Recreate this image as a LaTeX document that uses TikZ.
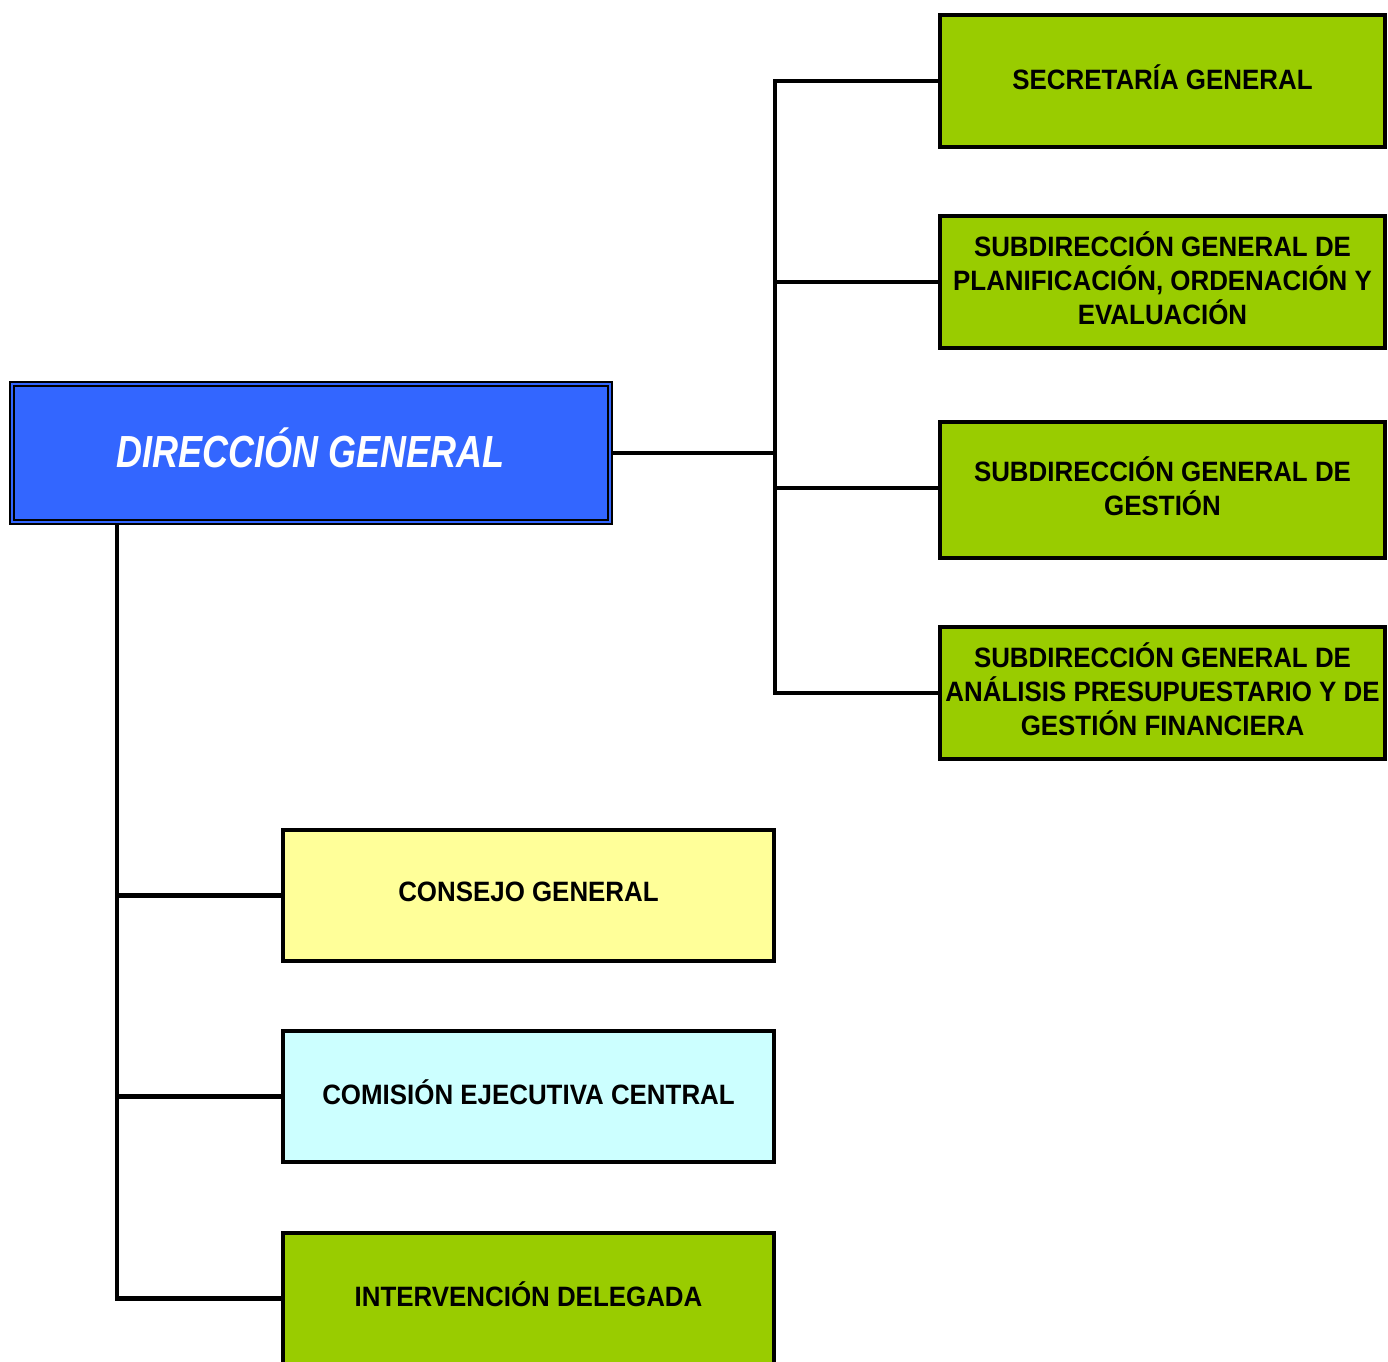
\documentclass[tikz,border=0pt]{standalone}
\usepackage{fontspec}
\setmainfont{Liberation Sans}
\newfontfamily\unitfont{Liberation Sans}[FakeStretch=0.925]
\newfontfamily\headfont{Liberation Sans}[FakeStretch=0.8]
\definecolor{headblue}{HTML}{3366FF}
\definecolor{unitgreen}{HTML}{99CC00}
\definecolor{unityellow}{HTML}{FFFF99}
\definecolor{unitcyan}{HTML}{CCFFFF}
\begin{document}
\begin{tikzpicture}[x=1pt, y=-1pt, line join=miter,
    head/.style={draw=black, line width=2pt, double=headblue, double distance=2pt,
      fill=headblue, minimum width=598pt, minimum height=138pt, inner sep=0pt, text depth=10pt,
      outer sep=3pt, text=white, font=\headfont\fontsize{45}{54}\selectfont\bfseries\itshape},
    unit/.style={draw=black, line width=4.5pt, minimum width=445pt, minimum height=132pt,
      inner sep=0pt, text depth=8pt, align=center, font=\unitfont\fontsize{28}{34}\selectfont\bfseries},
    link/.style={line width=4.5pt}]
  \useasboundingbox (0,0) rectangle (1388,1361);
  \node[head] (dg) at (311,453) {DIRECCIÓN GENERAL};
  \node[unit, fill=unitgreen] (sg) at (1162.5,81) {SECRETARÍA GENERAL};
  \node[unit, fill=unitgreen] (sgpoe) at (1162.5,282)
    {SUBDIRECCIÓN GENERAL DE\\PLANIFICACIÓN, ORDENACIÓN Y\\EVALUACIÓN};
  \node[unit, fill=unitgreen, minimum height=136pt] (sgg) at (1162.5,490)
    {SUBDIRECCIÓN GENERAL DE\\GESTIÓN};
  \node[unit, fill=unitgreen] (sgapf) at (1162.5,693)
    {SUBDIRECCIÓN GENERAL DE\\ANÁLISIS PRESUPUESTARIO Y DE\\GESTIÓN FINANCIERA};
  \node[unit, fill=unityellow, minimum width=491pt, minimum height=131pt] (cg) at (528.5,895.5)
    {CONSEJO GENERAL};
  \node[unit, fill=unitcyan, minimum width=491pt, minimum height=131pt] (cec) at (528.5,1096.5)
    {COMISIÓN EJECUTIVA CENTRAL};
  \node[unit, fill=unitgreen, minimum width=491pt, minimum height=131pt] (id) at (528.5,1298.5)
    {INTERVENCIÓN DELEGADA};
  \coordinate (trunkR) at (775,453);
  \coordinate (trunkL) at (117,453);
  % connectors
  \draw[link] (dg.east) -- (trunkR);
  \draw[link] (sg.west) -| (trunkR) |- (sgapf.west);
  \draw[link] (sgpoe.west) -- (sgpoe.west -| trunkR);
  \draw[link] (sgg.west) ++(0,-2) -- (trunkR |- 0,488);
  \draw[link] (trunkL |- dg.south) |- (id.west);
  \draw[link] (cg.west) -- (cg.west -| trunkL);
  \draw[link] (cec.west) -- (cec.west -| trunkL);
\end{tikzpicture}
\end{document}
